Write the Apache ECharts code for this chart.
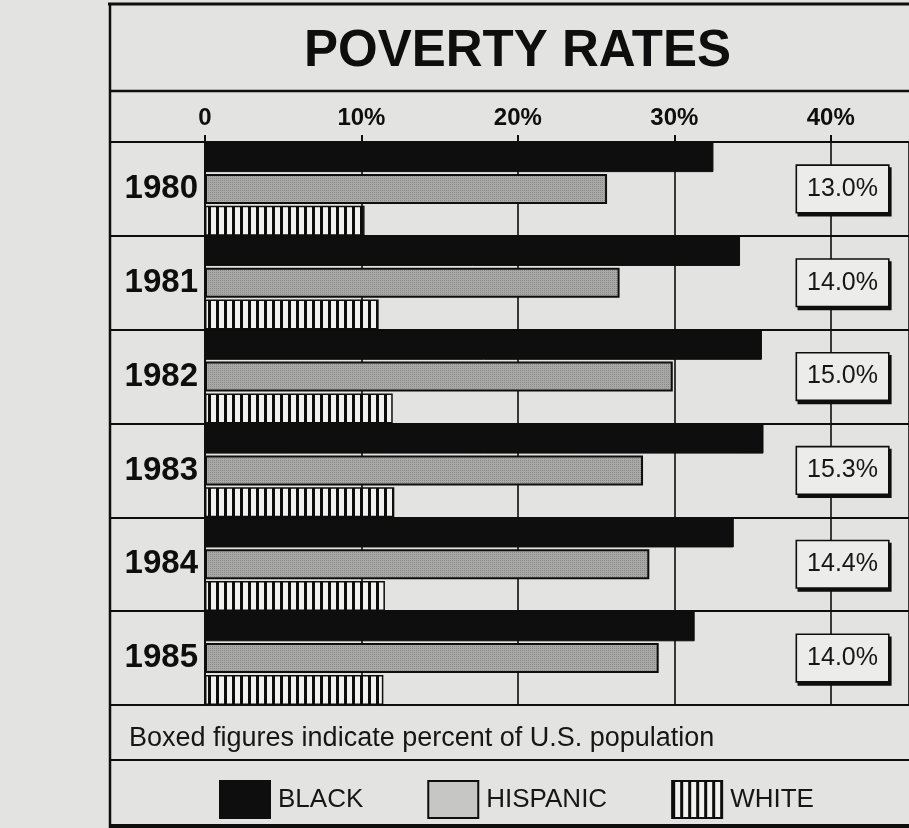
<!DOCTYPE html>
<html>
<head>
<meta charset="utf-8">
<script src="https://cdn.jsdelivr.net/npm/echarts@6/dist/echarts.min.js"></script>
<style>
html,body{margin:0;padding:0;background:#e3e3e1;}
#c{width:909px;height:828px;}
</style>
</head>
<body>
<div id="c"></div>
<script>
// ---- data ----
const years = ['1980', '1981', '1982', '1983', '1984', '1985'];
const blackRates = [32.5, 34.2, 35.6, 35.7, 33.8, 31.3];
const hispanicRates = [25.7, 26.5, 29.9, 28.0, 28.4, 29.0];
const whiteRates = [10.2, 11.1, 12.0, 12.1, 11.5, 11.4];
const populationPct = ['13.0%', '14.0%', '15.0%', '15.3%', '14.4%', '14.0%'];
const xTicks = [0, 10, 20, 30, 40];
const seriesNames = ['BLACK', 'HISPANIC', 'WHITE'];
const titleText = 'POVERTY RATES';
const noteText = 'Boxed figures indicate percent of U.S. population';

// ---- patterns ----
function stripePattern() {
  const c = document.createElement('canvas');
  c.width = 8; c.height = 4;
  const g = c.getContext('2d');
  g.fillStyle = '#f1f1ef'; g.fillRect(0, 0, 8, 4);
  g.fillStyle = '#0d0d0d'; g.fillRect(0, 0, 3, 4);
  return c;
}
function halftonePattern() {
  const c = document.createElement('canvas');
  c.width = 4; c.height = 4;
  const g = c.getContext('2d');
  g.fillStyle = '#a9a9a7'; g.fillRect(0, 0, 4, 4);
  g.fillStyle = '#8a8a88';
  g.fillRect(0, 0, 1, 1); g.fillRect(2, 2, 1, 1); g.fillRect(2, 0, 1, 1); g.fillRect(0, 2, 1, 1);
  return c;
}
const stripes = { image: stripePattern(), repeat: 'repeat' };
const halftone = { image: halftonePattern(), repeat: 'repeat' };

const INK = '#0e0e0e';
const FONT = 'Liberation Sans, Arial, Helvetica, sans-serif';

const chart = echarts.init(document.getElementById('c'), null, { renderer: 'canvas' });

const option = {
  backgroundColor: '#e3e3e1',
  animation: false,
  title: [
    { text: titleText, left: 299, top: 21,
      textStyle: { fontFamily: FONT, fontSize: 51, fontWeight: 'bold', color: INK } },
    { text: noteText, left: 124, top: 720,
      textStyle: { fontFamily: FONT, fontSize: 27, fontWeight: 'normal', color: '#161616' } }
  ],
  grid: [
    { left: 205, right: 0, top: 142, bottom: 123 },
    { left: 110, width: 95, top: 142, bottom: 123 }
  ],
  legend: {
    left: 214, top: 775,
    itemWidth: 50, itemHeight: 37, itemGap: 64,
    icon: 'rect',
    textStyle: { fontFamily: FONT, fontSize: 26, color: '#161616', padding: [2, 0, 0, 3] },
    data: [
      { name: seriesNames[0] },
      { name: seriesNames[1], itemStyle: { color: '#c6c6c4', borderColor: INK, borderWidth: 2 } },
      { name: seriesNames[2] }
    ]
  },
  xAxis: [
    {
      type: 'value', gridIndex: 0, position: 'top',
      min: 0, max: 45, interval: 10,
      axisLine: { show: true, lineStyle: { color: INK, width: 2 } },
      axisTick: { show: true, length: 7, lineStyle: { color: INK, width: 2 } },
      axisLabel: {
        showMaxLabel: false, margin: 12,
        fontFamily: FONT, fontSize: 24, fontWeight: 'bold', color: INK,
        formatter: v => (xTicks.indexOf(v) < 0 ? '' : (v === 0 ? '0' : v + '%'))
      },
      splitLine: { show: true, lineStyle: { color: INK, width: 1.6 } }
    },
    { type: 'value', gridIndex: 1, show: false }
  ],
  yAxis: [
    {
      type: 'category', gridIndex: 0, data: years, inverse: true, position: 'left',
      axisLine: { show: true, lineStyle: { color: INK, width: 2 } },
      axisTick: { show: false },
      axisLabel: { margin: 7, fontFamily: FONT, fontSize: 33, fontWeight: 'bold', color: INK,
        padding: [6, 0, 0, 0] },
      splitLine: { show: true, lineStyle: { color: INK, width: 2 } }
    },
    {
      type: 'category', gridIndex: 0, data: populationPct, inverse: true, position: 'right',
      axisLine: { show: false }, axisTick: { show: false }, splitLine: { show: false },
      axisLabel: {
        inside: true, margin: 21,
        fontFamily: FONT, fontSize: 25, color: '#161616',
        backgroundColor: '#ececea', borderColor: INK, borderWidth: 1.6,
        padding: [12, 10, 9, 10],
        shadowColor: INK, shadowOffsetX: 2, shadowOffsetY: 3, shadowBlur: 0
      }
    },
    {
      type: 'category', gridIndex: 1, data: years, inverse: true,
      axisLine: { show: false }, axisTick: { show: false }, axisLabel: { show: false },
      splitLine: { show: true, lineStyle: { color: INK, width: 2 } }
    }
  ],
  series: [
    { name: seriesNames[0], type: 'bar', data: blackRates, barWidth: 30, barGap: '6%',
      xAxisIndex: 0, yAxisIndex: 0,
      itemStyle: { color: INK, borderColor: INK, borderWidth: 1 } },
    { name: seriesNames[1], type: 'bar', data: hispanicRates, barWidth: 30, barGap: '6%',
      xAxisIndex: 0, yAxisIndex: 0,
      itemStyle: { color: halftone, borderColor: INK, borderWidth: 2 } },
    { name: seriesNames[2], type: 'bar', data: whiteRates, barWidth: 30, barGap: '6%',
      xAxisIndex: 0, yAxisIndex: 0,
      itemStyle: { color: stripes, borderColor: INK, borderWidth: 1.5 } }
  ],
  graphic: [
    { type: 'line', shape: { x1: 108, y1: 4, x2: 909, y2: 4 }, style: { stroke: INK, lineWidth: 3 } },
    { type: 'line', shape: { x1: 110, y1: 91, x2: 909, y2: 91 }, style: { stroke: INK, lineWidth: 2.5 } },
    { type: 'line', shape: { x1: 110, y1: 3, x2: 110, y2: 828 }, style: { stroke: INK, lineWidth: 2.5 } },
    { type: 'line', shape: { x1: 110, y1: 760, x2: 909, y2: 760 }, style: { stroke: INK, lineWidth: 2 } },
    { type: 'line', shape: { x1: 110, y1: 826, x2: 909, y2: 826 }, style: { stroke: INK, lineWidth: 4 } }
  ]
};
chart.setOption(option);
</script>
</body>
</html>
